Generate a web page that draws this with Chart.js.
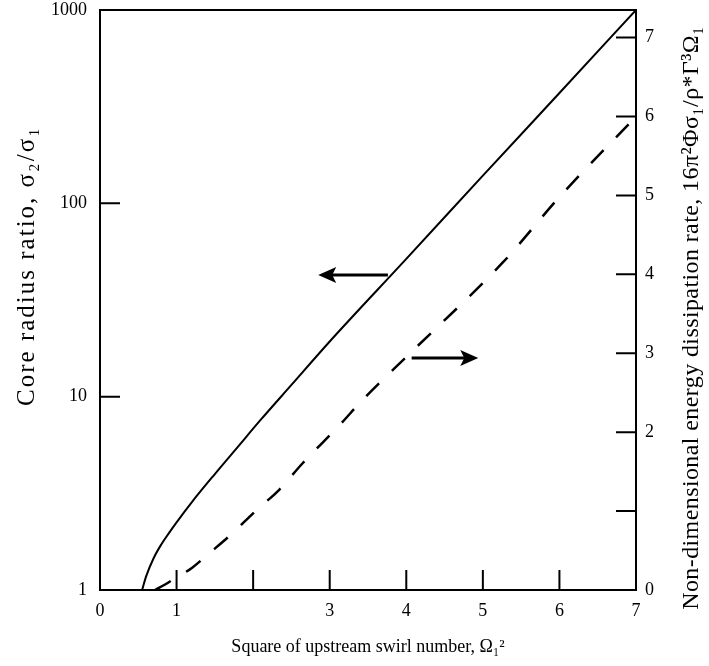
<!DOCTYPE html>
<html>
<head>
<meta charset="utf-8">
<script src="https://cdn.jsdelivr.net/npm/chart.js@4.4.0/dist/chart.umd.min.js"></script>
<style>
  html, body { margin: 0; padding: 0; background: #fff; }
  #wrap { width: 709px; height: 666px; }
</style>
</head>
<body>
<div id="wrap"><canvas id="grafica" width="709" height="666"></canvas></div>
<script>
// Datos
const solidX = [0.55, 0.6, 0.7, 0.8, 0.9, 1.0, 1.2, 1.5, 1.8, 2.1, 2.5, 3, 4, 5, 6, 7];
const solidY = [1, 1.17, 1.46, 1.72, 1.97, 2.24, 2.85, 3.98, 5.5, 7.6, 11.5, 19.3, 51.6, 139, 372, 1000];
const dashX = [0.72, 0.85, 1.0, 1.2, 1.42, 1.72, 2.03, 2.34, 2.64, 3.13, 3.43, 4.05, 5.27, 6, 7];
const dashY = [0, 0.07, 0.16, 0.28, 0.46, 0.71, 1.0, 1.27, 1.6, 2.09, 2.41, 3.0, 4.16, 4.98, 6.0];

const xTicks = [0, 1, 2, 3, 4, 5, 6, 7];
const xTickLabels = ['0', '1', '', '3', '4', '5', '6', '7'];
const leftTicks = [1, 10, 100, 1000];
const rightTicks = [0, 1, 2, 3, 4, 5, 6, 7];
const rightTickLabels = ['0', '', '2', '3', '4', '5', '6', '7'];

// Flechas que indican a qué eje pertenece cada curva (coordenadas de datos)
const leftArrow = { x0: 3.76, x1: 2.85, y: 42.6 };
const rightArrow = { x0: 4.07, x1: 4.94, y: 2.94 };

const xTitle = 'Square of upstream swirl number, Ω₁²';
const leftTitle = 'Core radius ratio, σ₂/σ₁';
const rightTitle = 'Non-dimensional energy dissipation rate, 16π²Φσ₁/ρ*Γ³Ω₁';

const familia = '"Liberation Serif", "DejaVu Serif", serif';
const fuente = { family: familia, size: 18 };

function flecha(ctx, x0, x1, y) {
  const dir = Math.sign(x1 - x0);
  ctx.beginPath();
  ctx.moveTo(x0, y);
  ctx.lineTo(x1 - dir * 12, y);
  ctx.lineWidth = 3;
  ctx.stroke();
  ctx.beginPath();
  ctx.moveTo(x1, y);
  ctx.lineTo(x1 - dir * 18, y - 8);
  ctx.lineTo(x1 - dir * 14, y);
  ctx.lineTo(x1 - dir * 18, y + 8);
  ctx.closePath();
  ctx.fill();
}

function textoVertical(ctx, texto, x, y, size, espacio) {
  ctx.save();
  ctx.translate(x, y);
  ctx.rotate(-Math.PI / 2);
  ctx.font = size + 'px ' + familia;
  if ('letterSpacing' in ctx) ctx.letterSpacing = espacio + 'px';
  ctx.textAlign = 'center';
  ctx.textBaseline = 'middle';
  ctx.fillText(texto, 0, 0);
  ctx.restore();
}

// Sin relleno extra por las etiquetas: el marco empieza arriba en y = 10
function sinRelleno(s) {
  s.paddingTop = 0;
  s.paddingBottom = 0;
  s.paddingLeft = 0;
  s.paddingRight = 0;
}

// Marco, marcas hacia dentro, flechas y títulos de los ejes verticales
const extras = {
  id: 'extras',
  afterDatasetsDraw(chart) {
    const { ctx, chartArea: a, scales } = chart;
    ctx.save();
    ctx.strokeStyle = '#000';
    ctx.fillStyle = '#000';
    ctx.lineWidth = 2;
    ctx.strokeRect(a.left, a.top, a.right - a.left, a.bottom - a.top);

    ctx.beginPath();
    xTicks.forEach(v => {
      if (v > 0 && v < 7) {
        const px = scales.x.getPixelForValue(v);
        ctx.moveTo(px, a.bottom);
        ctx.lineTo(px, a.bottom - 20);
      }
    });
    leftTicks.forEach(v => {
      if (v > 1 && v < 1000) {
        const py = scales.y.getPixelForValue(v);
        ctx.moveTo(a.left, py);
        ctx.lineTo(a.left + 20, py);
      }
    });
    rightTicks.forEach(v => {
      if (v > 0) {
        const py = scales.y2.getPixelForValue(v);
        ctx.moveTo(a.right, py);
        ctx.lineTo(a.right - 20, py);
      }
    });
    ctx.stroke();

    flecha(ctx, scales.x.getPixelForValue(leftArrow.x0), scales.x.getPixelForValue(leftArrow.x1),
      scales.y.getPixelForValue(leftArrow.y));
    flecha(ctx, scales.x.getPixelForValue(rightArrow.x0), scales.x.getPixelForValue(rightArrow.x1),
      scales.y2.getPixelForValue(rightArrow.y));

    textoVertical(ctx, leftTitle, 27, 266, 25, 2);
    textoVertical(ctx, rightTitle, 692, 318, 24, 0.4);
    ctx.restore();
  }
};

const ctx = document.getElementById('grafica').getContext('2d');
const grafica = new Chart(ctx, {
  type: 'line',
  data: {
    datasets: [
      {
        data: solidX.map((x, i) => ({ x: x, y: solidY[i] })),
        yAxisID: 'y',
        borderColor: '#000',
        borderWidth: 2,
        pointRadius: 0,
        cubicInterpolationMode: 'monotone'
      },
      {
        data: dashX.map((x, i) => ({ x: x, y: dashY[i] })),
        yAxisID: 'y2',
        borderColor: '#000',
        borderWidth: 2.5,
        borderDash: [18, 18],
        pointRadius: 0,
        cubicInterpolationMode: 'monotone'
      }
    ]
  },
  options: {
    responsive: false,
    animation: false,
    devicePixelRatio: 1,
    layout: { padding: { top: 10, left: 0, right: 0, bottom: 0 } },
    plugins: { legend: { display: false }, tooltip: { enabled: false } },
    scales: {
      x: {
        type: 'linear',
        min: 0,
        max: 7,
        afterBuildTicks: s => { s.ticks = xTicks.map(v => ({ value: v })); },
        afterFit: s => { sinRelleno(s); s.height = 76; },
        ticks: {
          callback: (v, i) => xTickLabels[i],
          color: '#000', font: fuente, padding: 10, maxRotation: 0, autoSkip: false
        },
        grid: { display: false, drawTicks: false },
        border: { display: false },
        title: { display: true, text: xTitle, color: '#000', font: fuente, padding: { top: 0, bottom: 8 } }
      },
      y: {
        type: 'logarithmic',
        position: 'left',
        min: 1,
        max: 1000,
        afterBuildTicks: s => { s.ticks = leftTicks.map(v => ({ value: v })); },
        afterFit: s => { sinRelleno(s); s.width = 100; },
        ticks: { callback: v => String(v), color: '#000', font: fuente, padding: 13 },
        grid: { display: false, drawTicks: false },
        border: { display: false }
      },
      y2: {
        type: 'linear',
        position: 'right',
        min: 0,
        max: 7.35,
        afterBuildTicks: s => { s.ticks = rightTicks.map(v => ({ value: v })); },
        afterFit: s => { sinRelleno(s); s.width = 73; },
        ticks: {
          callback: (v, i) => rightTickLabels[i],
          color: '#000', font: fuente, padding: 9
        },
        grid: { display: false, drawTicks: false },
        border: { display: false }
      }
    }
  },
  plugins: [extras]
});
</script>
</body>
</html>
